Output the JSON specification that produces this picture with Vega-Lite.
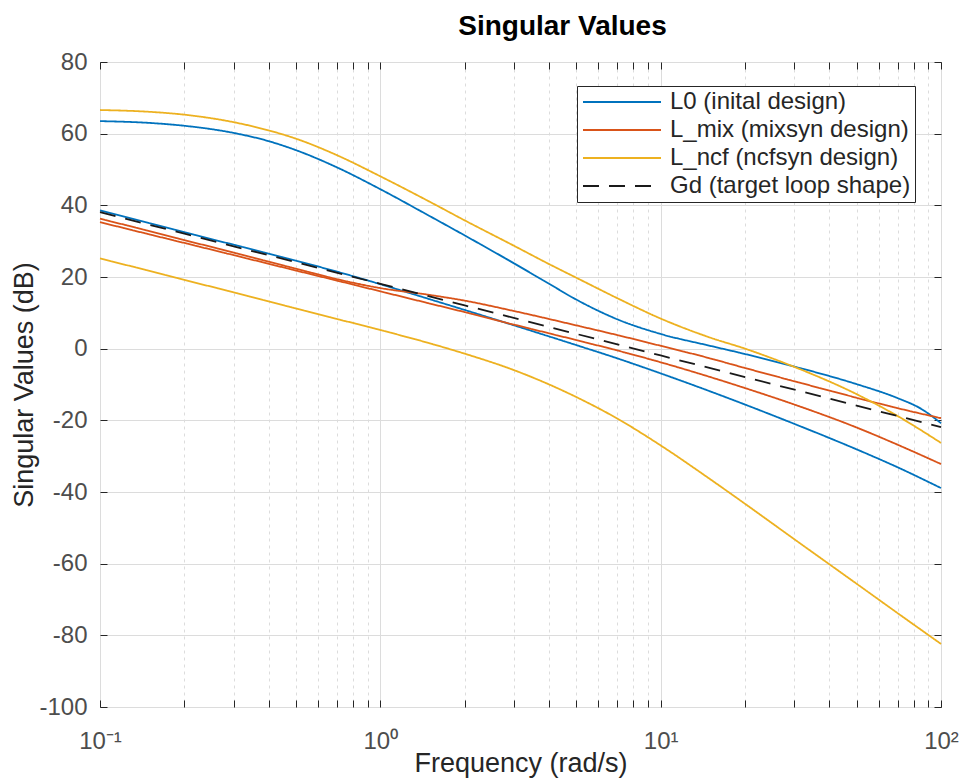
{
  "$schema": "https://vega.github.io/schema/vega-lite/v6.json",
  "width": 841,
  "height": 645,
  "autosize": {"type": "none"},
  "padding": {"left": 100, "top": 62, "right": 23, "bottom": 73},
  "background": "white",
  "title": {"text": "Singular Values", "fontSize": 28, "fontWeight": "bold", "font": "Liberation Sans", "color": "#000000", "anchor": "middle", "dx": 42, "offset": 9},
  "config": {
    "view": {"stroke": "#262626", "strokeWidth": 1},
    "font": "Liberation Sans"
  },
  "data": {"values": [
    {"f": 0.1, "db": 63.5, "series": "L0 (inital design)", "curve": "L0_1"},
    {"f": 0.15, "db": 63.0, "series": "L0 (inital design)", "curve": "L0_1"},
    {"f": 0.2, "db": 62.2, "series": "L0 (inital design)", "curve": "L0_1"},
    {"f": 0.3, "db": 60.2, "series": "L0 (inital design)", "curve": "L0_1"},
    {"f": 0.4, "db": 57.9, "series": "L0 (inital design)", "curve": "L0_1"},
    {"f": 0.5, "db": 55.4, "series": "L0 (inital design)", "curve": "L0_1"},
    {"f": 0.7, "db": 50.6, "series": "L0 (inital design)", "curve": "L0_1"},
    {"f": 1, "db": 44.5, "series": "L0 (inital design)", "curve": "L0_1"},
    {"f": 1.5, "db": 37.0, "series": "L0 (inital design)", "curve": "L0_1"},
    {"f": 2, "db": 31.6, "series": "L0 (inital design)", "curve": "L0_1"},
    {"f": 3, "db": 23.8, "series": "L0 (inital design)", "curve": "L0_1"},
    {"f": 4, "db": 18.1, "series": "L0 (inital design)", "curve": "L0_1"},
    {"f": 5, "db": 13.7, "series": "L0 (inital design)", "curve": "L0_1"},
    {"f": 7, "db": 8.2, "series": "L0 (inital design)", "curve": "L0_1"},
    {"f": 10, "db": 4.1, "series": "L0 (inital design)", "curve": "L0_1"},
    {"f": 15, "db": 0.8, "series": "L0 (inital design)", "curve": "L0_1"},
    {"f": 20, "db": -1.5, "series": "L0 (inital design)", "curve": "L0_1"},
    {"f": 30, "db": -5.0, "series": "L0 (inital design)", "curve": "L0_1"},
    {"f": 50, "db": -9.9, "series": "L0 (inital design)", "curve": "L0_1"},
    {"f": 70, "db": -13.8, "series": "L0 (inital design)", "curve": "L0_1"},
    {"f": 85, "db": -16.8, "series": "L0 (inital design)", "curve": "L0_1"},
    {"f": 100, "db": -20.8, "series": "L0 (inital design)", "curve": "L0_1"},

    {"f": 0.1, "db": 38.6, "series": "L0 (inital design)", "curve": "L0_2"},
    {"f": 0.15, "db": 35.0, "series": "L0 (inital design)", "curve": "L0_2"},
    {"f": 0.2, "db": 32.5, "series": "L0 (inital design)", "curve": "L0_2"},
    {"f": 0.3, "db": 29.0, "series": "L0 (inital design)", "curve": "L0_2"},
    {"f": 0.5, "db": 24.55, "series": "L0 (inital design)", "curve": "L0_2"},
    {"f": 0.7, "db": 21.5, "series": "L0 (inital design)", "curve": "L0_2"},
    {"f": 1, "db": 18.0, "series": "L0 (inital design)", "curve": "L0_2"},
    {"f": 1.5, "db": 13.8, "series": "L0 (inital design)", "curve": "L0_2"},
    {"f": 2, "db": 10.8, "series": "L0 (inital design)", "curve": "L0_2"},
    {"f": 3, "db": 6.5, "series": "L0 (inital design)", "curve": "L0_2"},
    {"f": 5, "db": 1.0, "series": "L0 (inital design)", "curve": "L0_2"},
    {"f": 7, "db": -2.7, "series": "L0 (inital design)", "curve": "L0_2"},
    {"f": 10, "db": -6.9, "series": "L0 (inital design)", "curve": "L0_2"},
    {"f": 15, "db": -11.9, "series": "L0 (inital design)", "curve": "L0_2"},
    {"f": 20, "db": -15.6, "series": "L0 (inital design)", "curve": "L0_2"},
    {"f": 30, "db": -21.0, "series": "L0 (inital design)", "curve": "L0_2"},
    {"f": 50, "db": -28.1, "series": "L0 (inital design)", "curve": "L0_2"},
    {"f": 70, "db": -33.1, "series": "L0 (inital design)", "curve": "L0_2"},
    {"f": 100, "db": -38.9, "series": "L0 (inital design)", "curve": "L0_2"},

    {"f": 0.1, "db": 36.3, "series": "L_mix (mixsyn design)", "curve": "Lmix_1"},
    {"f": 0.15, "db": 32.8, "series": "L_mix (mixsyn design)", "curve": "Lmix_1"},
    {"f": 0.2, "db": 30.3, "series": "L_mix (mixsyn design)", "curve": "Lmix_1"},
    {"f": 0.3, "db": 26.8, "series": "L_mix (mixsyn design)", "curve": "Lmix_1"},
    {"f": 0.5, "db": 22.3, "series": "L_mix (mixsyn design)", "curve": "Lmix_1"},
    {"f": 0.7, "db": 19.4, "series": "L_mix (mixsyn design)", "curve": "Lmix_1"},
    {"f": 1, "db": 16.9, "series": "L_mix (mixsyn design)", "curve": "Lmix_1"},
    {"f": 1.5, "db": 15.0, "series": "L_mix (mixsyn design)", "curve": "Lmix_1"},
    {"f": 2, "db": 13.4, "series": "L_mix (mixsyn design)", "curve": "Lmix_1"},
    {"f": 3, "db": 10.5, "series": "L_mix (mixsyn design)", "curve": "Lmix_1"},
    {"f": 5, "db": 6.5, "series": "L_mix (mixsyn design)", "curve": "Lmix_1"},
    {"f": 7, "db": 3.8, "series": "L_mix (mixsyn design)", "curve": "Lmix_1"},
    {"f": 10, "db": 0.8, "series": "L_mix (mixsyn design)", "curve": "Lmix_1"},
    {"f": 15, "db": -2.7, "series": "L_mix (mixsyn design)", "curve": "Lmix_1"},
    {"f": 20, "db": -5.4, "series": "L_mix (mixsyn design)", "curve": "Lmix_1"},
    {"f": 30, "db": -9.1, "series": "L_mix (mixsyn design)", "curve": "Lmix_1"},
    {"f": 50, "db": -13.7, "series": "L_mix (mixsyn design)", "curve": "Lmix_1"},
    {"f": 70, "db": -16.6, "series": "L_mix (mixsyn design)", "curve": "Lmix_1"},
    {"f": 100, "db": -19.4, "series": "L_mix (mixsyn design)", "curve": "Lmix_1"},

    {"f": 0.1, "db": 35.3, "series": "L_mix (mixsyn design)", "curve": "Lmix_2"},
    {"f": 0.15, "db": 31.9, "series": "L_mix (mixsyn design)", "curve": "Lmix_2"},
    {"f": 0.2, "db": 29.5, "series": "L_mix (mixsyn design)", "curve": "Lmix_2"},
    {"f": 0.3, "db": 26.1, "series": "L_mix (mixsyn design)", "curve": "Lmix_2"},
    {"f": 0.5, "db": 21.8, "series": "L_mix (mixsyn design)", "curve": "Lmix_2"},
    {"f": 0.7, "db": 19.0, "series": "L_mix (mixsyn design)", "curve": "Lmix_2"},
    {"f": 1, "db": 16.0, "series": "L_mix (mixsyn design)", "curve": "Lmix_2"},
    {"f": 1.5, "db": 12.6, "series": "L_mix (mixsyn design)", "curve": "Lmix_2"},
    {"f": 2, "db": 10.2, "series": "L_mix (mixsyn design)", "curve": "Lmix_2"},
    {"f": 3, "db": 6.7, "series": "L_mix (mixsyn design)", "curve": "Lmix_2"},
    {"f": 5, "db": 2.4, "series": "L_mix (mixsyn design)", "curve": "Lmix_2"},
    {"f": 7, "db": -0.5, "series": "L_mix (mixsyn design)", "curve": "Lmix_2"},
    {"f": 10, "db": -3.8, "series": "L_mix (mixsyn design)", "curve": "Lmix_2"},
    {"f": 15, "db": -7.9, "series": "L_mix (mixsyn design)", "curve": "Lmix_2"},
    {"f": 20, "db": -11.0, "series": "L_mix (mixsyn design)", "curve": "Lmix_2"},
    {"f": 30, "db": -15.6, "series": "L_mix (mixsyn design)", "curve": "Lmix_2"},
    {"f": 50, "db": -22.0, "series": "L_mix (mixsyn design)", "curve": "Lmix_2"},
    {"f": 70, "db": -26.8, "series": "L_mix (mixsyn design)", "curve": "Lmix_2"},
    {"f": 100, "db": -32.2, "series": "L_mix (mixsyn design)", "curve": "Lmix_2"},

    {"f": 0.1, "db": 66.6, "series": "L_ncf (ncfsyn design)", "curve": "Lncf_1"},
    {"f": 0.15, "db": 66.1, "series": "L_ncf (ncfsyn design)", "curve": "Lncf_1"},
    {"f": 0.2, "db": 65.3, "series": "L_ncf (ncfsyn design)", "curve": "Lncf_1"},
    {"f": 0.3, "db": 63.2, "series": "L_ncf (ncfsyn design)", "curve": "Lncf_1"},
    {"f": 0.4, "db": 60.9, "series": "L_ncf (ncfsyn design)", "curve": "Lncf_1"},
    {"f": 0.5, "db": 58.6, "series": "L_ncf (ncfsyn design)", "curve": "Lncf_1"},
    {"f": 0.7, "db": 54.0, "series": "L_ncf (ncfsyn design)", "curve": "Lncf_1"},
    {"f": 1, "db": 48.1, "series": "L_ncf (ncfsyn design)", "curve": "Lncf_1"},
    {"f": 1.5, "db": 41.0, "series": "L_ncf (ncfsyn design)", "curve": "Lncf_1"},
    {"f": 2, "db": 35.8, "series": "L_ncf (ncfsyn design)", "curve": "Lncf_1"},
    {"f": 3, "db": 28.7, "series": "L_ncf (ncfsyn design)", "curve": "Lncf_1"},
    {"f": 4, "db": 23.6, "series": "L_ncf (ncfsyn design)", "curve": "Lncf_1"},
    {"f": 5, "db": 19.8, "series": "L_ncf (ncfsyn design)", "curve": "Lncf_1"},
    {"f": 7, "db": 14.1, "series": "L_ncf (ncfsyn design)", "curve": "Lncf_1"},
    {"f": 10, "db": 8.4, "series": "L_ncf (ncfsyn design)", "curve": "Lncf_1"},
    {"f": 15, "db": 3.1, "series": "L_ncf (ncfsyn design)", "curve": "Lncf_1"},
    {"f": 20, "db": 0.0, "series": "L_ncf (ncfsyn design)", "curve": "Lncf_1"},
    {"f": 30, "db": -5.1, "series": "L_ncf (ncfsyn design)", "curve": "Lncf_1"},
    {"f": 50, "db": -12.7, "series": "L_ncf (ncfsyn design)", "curve": "Lncf_1"},
    {"f": 70, "db": -18.8, "series": "L_ncf (ncfsyn design)", "curve": "Lncf_1"},
    {"f": 100, "db": -26.3, "series": "L_ncf (ncfsyn design)", "curve": "Lncf_1"},

    {"f": 0.1, "db": 25.2, "series": "L_ncf (ncfsyn design)", "curve": "Lncf_2"},
    {"f": 0.15, "db": 21.7, "series": "L_ncf (ncfsyn design)", "curve": "Lncf_2"},
    {"f": 0.2, "db": 19.2, "series": "L_ncf (ncfsyn design)", "curve": "Lncf_2"},
    {"f": 0.3, "db": 15.7, "series": "L_ncf (ncfsyn design)", "curve": "Lncf_2"},
    {"f": 0.5, "db": 11.2, "series": "L_ncf (ncfsyn design)", "curve": "Lncf_2"},
    {"f": 0.7, "db": 8.3, "series": "L_ncf (ncfsyn design)", "curve": "Lncf_2"},
    {"f": 1, "db": 5.2, "series": "L_ncf (ncfsyn design)", "curve": "Lncf_2"},
    {"f": 1.5, "db": 1.5, "series": "L_ncf (ncfsyn design)", "curve": "Lncf_2"},
    {"f": 2, "db": -1.4, "series": "L_ncf (ncfsyn design)", "curve": "Lncf_2"},
    {"f": 3, "db": -6.0, "series": "L_ncf (ncfsyn design)", "curve": "Lncf_2"},
    {"f": 5, "db": -13.5, "series": "L_ncf (ncfsyn design)", "curve": "Lncf_2"},
    {"f": 7, "db": -19.5, "series": "L_ncf (ncfsyn design)", "curve": "Lncf_2"},
    {"f": 10, "db": -27.0, "series": "L_ncf (ncfsyn design)", "curve": "Lncf_2"},
    {"f": 15, "db": -36.4, "series": "L_ncf (ncfsyn design)", "curve": "Lncf_2"},
    {"f": 20, "db": -43.3, "series": "L_ncf (ncfsyn design)", "curve": "Lncf_2"},
    {"f": 30, "db": -53.2, "series": "L_ncf (ncfsyn design)", "curve": "Lncf_2"},
    {"f": 50, "db": -65.6, "series": "L_ncf (ncfsyn design)", "curve": "Lncf_2"},
    {"f": 70, "db": -73.8, "series": "L_ncf (ncfsyn design)", "curve": "Lncf_2"},
    {"f": 100, "db": -82.4, "series": "L_ncf (ncfsyn design)", "curve": "Lncf_2"},

    {"f": 0.1, "db": 38.1, "series": "Gd (target loop shape)", "curve": "Gd"},
    {"f": 0.2, "db": 32.08, "series": "Gd (target loop shape)", "curve": "Gd"},
    {"f": 0.5, "db": 24.12, "series": "Gd (target loop shape)", "curve": "Gd"},
    {"f": 1, "db": 18.1, "series": "Gd (target loop shape)", "curve": "Gd"},
    {"f": 2, "db": 12.08, "series": "Gd (target loop shape)", "curve": "Gd"},
    {"f": 5, "db": 4.12, "series": "Gd (target loop shape)", "curve": "Gd"},
    {"f": 10, "db": -1.9, "series": "Gd (target loop shape)", "curve": "Gd"},
    {"f": 20, "db": -7.92, "series": "Gd (target loop shape)", "curve": "Gd"},
    {"f": 50, "db": -15.88, "series": "Gd (target loop shape)", "curve": "Gd"},
    {"f": 100, "db": -21.9, "series": "Gd (target loop shape)", "curve": "Gd"}
  ]},
  "layer": [
    {
      "transform": [{"filter": "datum.series != 'Gd (target loop shape)'"}],
      "mark": {"type": "line", "strokeWidth": 1.8, "interpolate": "monotone"},
      "encoding": {
        "x": {
          "field": "f", "type": "quantitative",
          "scale": {"type": "log", "domain": [0.1, 100], "nice": false},
          "axis": {
            "orient": "bottom",
            "values": [0.1,0.2,0.3,0.4,0.5,0.6,0.7,0.8,0.9,1,2,3,4,5,6,7,8,9,10,20,30,40,50,60,70,80,90,100],
            "labelExpr": "datum.value == 0.1 ? '10⁻¹' : datum.value == 1 ? '10⁰' : datum.value == 10 ? '10¹' : datum.value == 100 ? '10²' : ''",
            "title": "Frequency (rad/s)",
            "grid": true,
            "gridColor": "#dcdcdc",
            "gridDash": {"condition": {"test": "indexof([0.1,1,10,100], datum.value) < 0", "value": [3, 4]}, "value": []},
            "domain": false,
            "tickSize": -7,
            "tickColor": "#262626",
            "labelFontSize": 24,
            "labelColor": "#4d4d4d",
            "labelPadding": 48,
            "labelBaseline": "alphabetic",
            "labelFlush": false,
            "labelOverlap": false,
            "titleFontSize": 27,
            "titleFontWeight": "normal",
            "titleColor": "#262626",
            "titleBaseline": "alphabetic",
            "titleY": 64
          }
        },
        "y": {
          "field": "db", "type": "quantitative",
          "scale": {"domain": [-100, 80], "nice": false},
          "axis": {
            "orient": "left",
            "values": [-100,-80,-60,-40,-20,0,20,40,60,80],
            "labelExpr": "toString(datum.value)",
            "title": "Singular Values (dB)",
            "grid": true,
            "gridColor": "#dcdcdc",
            "domain": false,
            "tickSize": -7,
            "tickColor": "#262626",
            "labelFontSize": 24,
            "labelColor": "#4d4d4d",
            "labelPadding": 20,
            "labelBaseline": "middle",
            "titleFontSize": 27,
            "titleFontWeight": "normal",
            "titleColor": "#262626",
            "titleBaseline": "middle",
            "titleX": -76
          }
        },
        "color": {
          "field": "series", "type": "nominal",
          "scale": {"domain": ["L0 (inital design)", "L_mix (mixsyn design)", "L_ncf (ncfsyn design)", "Gd (target loop shape)"], "range": ["#0072BD", "#D95319", "#EDB120", "#1a1a1a"]},
          "legend": {"title": null, "orient": "none", "legendX": 477, "legendY": 24, "direction": "vertical", "symbolType": "M-1,0H6.8", "symbolSize": 400, "symbolStrokeWidth": 2, "labelFontSize": 24, "labelColor": "#262626", "labelOffset": 65, "labelLimit": 500, "fillColor": "white", "strokeColor": "#262626", "padding": 4, "rowPadding": 4}
        },
        "strokeDash": {
          "field": "series", "type": "nominal",
          "scale": {"domain": ["L0 (inital design)", "L_mix (mixsyn design)", "L_ncf (ncfsyn design)", "Gd (target loop shape)"], "range": [[1, 0], [1, 0], [1, 0], [16, 10]]},
          "legend": {"title": null, "orient": "none", "legendX": 477, "legendY": 24, "direction": "vertical", "symbolType": "M-1,0H6.8", "symbolSize": 400, "symbolStrokeWidth": 2, "labelFontSize": 24, "labelColor": "#262626", "labelOffset": 65, "labelLimit": 500, "fillColor": "white", "strokeColor": "#262626", "padding": 4, "rowPadding": 4}
        },
        "detail": {"field": "curve"}
      }
    },
    {
      "transform": [{"filter": "datum.series == 'Gd (target loop shape)'"}],
      "mark": {"type": "line", "strokeWidth": 1.8},
      "encoding": {
        "x": {
          "field": "f", "type": "quantitative",
          "scale": {"type": "log", "domain": [0.1, 100], "nice": false},
          "axis": {"orient": "top", "values": [0.1,0.2,0.3,0.4,0.5,0.6,0.7,0.8,0.9,1,2,3,4,5,6,7,8,9,10,20,30,40,50,60,70,80,90,100], "labels": false, "title": null, "grid": false, "domain": false, "tickSize": -7, "tickColor": "#262626"}
        },
        "y": {
          "field": "db", "type": "quantitative",
          "scale": {"domain": [-100, 80], "nice": false},
          "axis": {"orient": "right", "values": [-100,-80,-60,-40,-20,0,20,40,60,80], "labels": false, "title": null, "grid": false, "domain": false, "tickSize": -7, "tickColor": "#262626"}
        },
        "color": {
          "field": "series", "type": "nominal",
          "scale": {"domain": ["L0 (inital design)", "L_mix (mixsyn design)", "L_ncf (ncfsyn design)", "Gd (target loop shape)"], "range": ["#0072BD", "#D95319", "#EDB120", "#1a1a1a"]}
        },
        "strokeDash": {
          "field": "series", "type": "nominal",
          "scale": {"domain": ["L0 (inital design)", "L_mix (mixsyn design)", "L_ncf (ncfsyn design)", "Gd (target loop shape)"], "range": [[1, 0], [1, 0], [1, 0], [16, 10]]}
        },
        "detail": {"field": "curve"}
      }
    }
  ],
  "resolve": {"axis": {"x": "independent", "y": "independent"}}
}
